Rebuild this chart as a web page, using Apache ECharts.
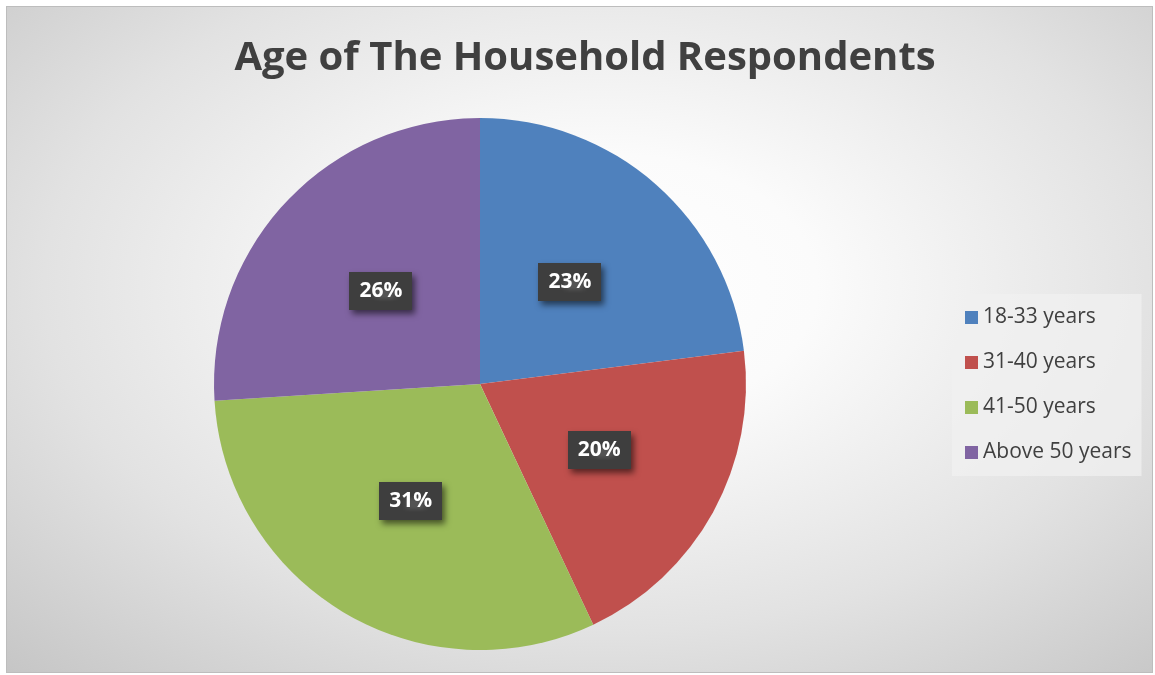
<!DOCTYPE html>
<html>
<head>
<meta charset="utf-8">
<script src="https://cdn.jsdelivr.net/npm/echarts@6/dist/echarts.min.js"></script>
<style>
  html, body { margin: 0; padding: 0; background: #ffffff; width: 1155px; height: 675px; overflow: hidden; }
  #chart {
    position: absolute; left: 6px; top: 6px; width: 1145px; height: 665px;
    border: 1px solid #bdbdbd;
    background: radial-gradient(ellipse 75% 80% at 52% 42%, #ffffff 0%, #fbfbfb 25%, #e2e2e2 65%, #c6c6c6 100%);
  }
</style>
</head>
<body>
<div id="chart"></div>
<script>
const categories = ['18-33 years', '31-40 years', '41-50 years', 'Above 50 years'];
const values = [23, 20, 31, 26];
const colors = ['#4f81bd', '#c0504d', '#9bbb59', '#8064a2'];
const titleText = 'Age of The Household Respondents';

// dotted dark pattern for label boxes
const pc = document.createElement('canvas');
pc.width = 7; pc.height = 7;
const g = pc.getContext('2d');
g.fillStyle = '#3e3e3e'; g.fillRect(0, 0, 7, 7);
g.fillStyle = '#545454'; g.fillRect(3, 3, 2, 2);

const chart = echarts.init(document.getElementById('chart'), null, { renderer: 'canvas' });
chart.setOption({
  backgroundColor: 'transparent',
  animation: false,
  title: {
    text: titleText,
    left: 573, top: 27, textAlign: 'center',
    textStyle: { fontFamily: 'Open Sans', fontWeight: 'bold', fontSize: 40, color: '#404040' }
  },
  legend: {
    orient: 'vertical',
    left: 945, top: 287,
    padding: [13, 10, 13, 13],
    backgroundColor: 'rgba(240,240,240,0.75)',
    itemWidth: 13, itemHeight: 13, itemGap: 24,
    icon: 'rect',
    textStyle: { fontFamily: 'Open Sans', fontSize: 21, color: '#404040', lineHeight: 21 },
    data: categories
  },
  series: [{
    type: 'pie',
    center: [473, 377],
    radius: [0, 266],
    startAngle: 90,
    clockwise: true,
    avoidLabelOverlap: false,
    data: categories.map((c, i) => ({ name: c, value: values[i], itemStyle: { color: colors[i] } })),
    label: {
      show: true,
      position: 'inside',
      formatter: '{d}%',
      fontFamily: 'Open Sans', fontWeight: 'bold', fontSize: 21, color: '#ffffff',
      backgroundColor: { image: pc, repeat: 'repeat' },
      padding: [9, 10, 8, 10],
      shadowColor: 'rgba(0,0,0,0.55)', shadowBlur: 6, shadowOffsetX: 3, shadowOffsetY: 4
    },
    labelLine: { show: false },
    emphasis: { disabled: true }
  }]
});
</script>
</body>
</html>
